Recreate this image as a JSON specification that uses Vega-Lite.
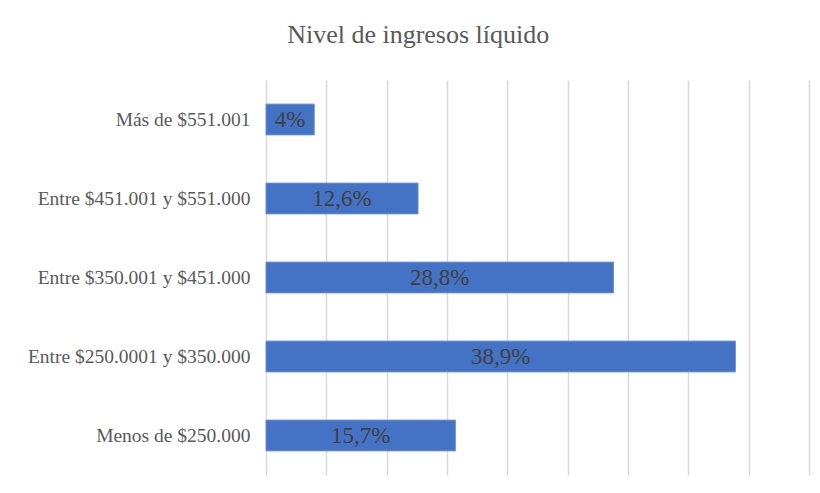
{
  "$schema": "https://vega.github.io/schema/vega-lite/v6.json",
  "autosize": "none",
  "width": 543,
  "height": 395,
  "padding": {"left": 266, "top": 80, "right": 11, "bottom": 18},
  "background": "white",
  "config": {
    "locale": {"number": {"decimal": ",", "thousands": ".", "grouping": [3], "currency": ["$", ""]}},
    "view": {"stroke": null},
    "font": "Liberation Serif"
  },
  "title": {
    "text": "Nivel de ingresos líquido",
    "font": "Liberation Serif",
    "fontSize": 26,
    "fontWeight": "normal",
    "color": "#595959",
    "anchor": "middle",
    "frame": "bounds",
    "baseline": "alphabetic",
    "offset": 11
  },
  "data": {
    "values": [
      {"categoria": "Más de $551.001", "pct": 0.04},
      {"categoria": "Entre $451.001 y $551.000", "pct": 0.126},
      {"categoria": "Entre $350.001 y $451.000", "pct": 0.288},
      {"categoria": "Entre $250.0001 y $350.000", "pct": 0.389},
      {"categoria": "Menos de $250.000", "pct": 0.157}
    ]
  },
  "encoding": {
    "y": {
      "field": "categoria",
      "type": "nominal",
      "sort": ["Más de $551.001", "Entre $451.001 y $551.000", "Entre $350.001 y $451.000", "Entre $250.0001 y $350.000", "Menos de $250.000"],
      "scale": {"paddingInner": 0.61, "paddingOuter": 0.305},
      "axis": {
        "title": null,
        "ticks": false,
        "domain": false,
        "labelPadding": 16,
        "labelFont": "Liberation Serif",
        "labelFontSize": 19.5,
        "labelColor": "#595959",
        "labelLimit": 400
      }
    }
  },
  "layer": [
    {
      "mark": {"type": "bar", "color": "#4472C4", "stroke": "#6f93d6", "strokeWidth": 1},
      "encoding": {
        "x": {
          "field": "pct",
          "type": "quantitative",
          "scale": {"domain": [0, 0.45], "nice": false},
          "axis": {
            "title": null,
            "labels": false,
            "ticks": false,
            "domain": false,
            "values": [0, 0.05, 0.1, 0.15, 0.2, 0.25, 0.3, 0.35, 0.4, 0.45],
            "grid": true,
            "gridColor": "#d9d9d9",
            "gridWidth": 1.5
          }
        }
      }
    },
    {
      "transform": [{"calculate": "datum.pct / 2", "as": "mid"}],
      "mark": {"type": "text", "fontSize": 23, "color": "#404040", "align": "center", "baseline": "middle"},
      "encoding": {
        "x": {"field": "mid", "type": "quantitative"},
        "text": {"field": "pct", "type": "quantitative", "format": ".1~%"},
        "font": {"value": "Liberation Serif"}
      }
    }
  ]
}
